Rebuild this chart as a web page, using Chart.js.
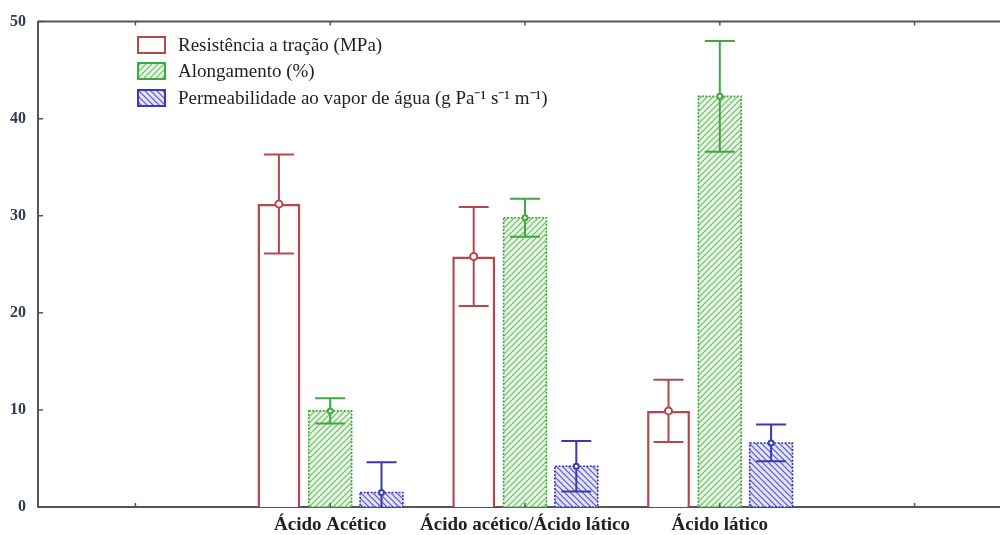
<!DOCTYPE html>
<html>
<head>
<meta charset="utf-8">
<script src="https://cdn.jsdelivr.net/npm/chart.js"></script>
<style>
  html, body { margin: 0; padding: 0; background: #fff; overflow: hidden; }
  #wrap { width: 1015px; height: 535px; }
</style>
</head>
<body>
<div id="wrap"><canvas id="grafico" width="1015" height="535"></canvas></div>
<script>
// categorias (as pontas vazias dão o espaço das bordas)
const categories = ['', 'Ácido Acético', 'Ácido acético/Ácido lático', 'Ácido lático', ''];

// médias e desvios
const resistencia = [null, 31.2, 25.8, 9.9, null];
const resistenciaErr = [null, 5.1, 5.1, 3.2, null];
const alongamento = [null, 9.9, 29.8, 42.3, null];
const alongamentoErr = [null, 1.3, 1.95, 5.7, null];
const permeabilidade = [null, 1.5, 4.2, 6.6, null];
const permeabilidadeErr = [null, 3.1, 2.6, 1.9, null];

const yTicks = [0, 10, 20, 30, 40, 50];

const labelsLegenda = [
  'Resistência a tração (MPa)',
  'Alongamento (%)',
  'Permeabilidade ao vapor de água (g Pa\u207B\u00B9 s\u207B\u00B9 m\u207B\u00B9)'
];

const vermelho = '#b5484e';
const verde = '#3fa83f';
const azul = '#3a3aad';

// padrão hachurado
function hachura(cor, fundo, sentido) {
  const c = document.createElement('canvas');
  c.width = 6; c.height = 6;
  const g = c.getContext('2d');
  g.fillStyle = fundo;
  g.fillRect(0, 0, 6, 6);
  g.strokeStyle = cor;
  g.lineWidth = 1.2;
  g.beginPath();
  if (sentido > 0) {
    g.moveTo(0, 6); g.lineTo(6, 0);
    g.moveTo(-3, 3); g.lineTo(3, -3);
    g.moveTo(3, 9); g.lineTo(9, 3);
  } else {
    g.moveTo(0, 0); g.lineTo(6, 6);
    g.moveTo(-3, 3); g.lineTo(3, 9);
    g.moveTo(3, -3); g.lineTo(9, 3);
  }
  g.stroke();
  return document.getElementById('grafico').getContext('2d').createPattern(c, 'repeat');
}

const padraoVerde = hachura('#6cc06c', '#e6f4e2', 1);
const padraoAzul = hachura('#5a5ac0', '#e4e4f4', -1);

const erros = [resistenciaErr, alongamentoErr, permeabilidadeErr];
const raios = [3.5, 2.5, 2.5];

// barras de erro, eixos e legenda desenhados por cima
const extras = {
  id: 'extras',
  afterDatasetsDraw(chart) {
    const ctx = chart.ctx;
    const area = chart.chartArea;
    const y = chart.scales.y;
    const x = chart.scales.x;

    // borda pontilhada das barras hachuradas
    [1, 2].forEach(i => {
      const meta = chart.getDatasetMeta(i);
      const cor = chart.data.datasets[i].borderColor;
      meta.data.forEach((el, j) => {
        if (chart.data.datasets[i].data[j] == null) return;
        const w = el.width;
        ctx.save();
        ctx.strokeStyle = cor;
        ctx.lineWidth = 1.6;
        ctx.setLineDash([2, 1.5]);
        ctx.strokeRect(el.x - w / 2, el.y, w, el.base - el.y);
        ctx.restore();
      });
    });

    ctx.save();
    ctx.beginPath();
    ctx.rect(area.left, area.top, area.right - area.left, area.bottom - area.top);
    ctx.clip();
    chart.data.datasets.forEach((ds, i) => {
      const meta = chart.getDatasetMeta(i);
      meta.data.forEach((el, j) => {
        const v = ds.data[j];
        if (v == null) return;
        const e = erros[i][j];
        const yt = y.getPixelForValue(v + e);
        const yb = y.getPixelForValue(v - e);
        const ym = y.getPixelForValue(v);
        ctx.strokeStyle = ds.borderColor;
        ctx.lineWidth = 2;
        ctx.beginPath();
        ctx.moveTo(el.x, yt); ctx.lineTo(el.x, yb);
        ctx.moveTo(el.x - 15, yt); ctx.lineTo(el.x + 15, yt);
        ctx.moveTo(el.x - 15, yb); ctx.lineTo(el.x + 15, yb);
        ctx.stroke();
        ctx.fillStyle = '#fff';
        ctx.beginPath();
        ctx.arc(el.x, ym, raios[i], 0, Math.PI * 2);
        ctx.fill();
        ctx.stroke();
      });
    });
    ctx.restore();

    // moldura: topo e pequenas marcas
    ctx.save();
    ctx.strokeStyle = '#555';
    ctx.lineWidth = 2;
    ctx.beginPath();
    ctx.moveTo(area.left, area.top); ctx.lineTo(area.right, area.top);
    ctx.stroke();
    ctx.lineWidth = 1.5;
    ctx.beginPath();
    y.ticks.forEach((t, k) => {
      const py = y.getPixelForTick(k);
      ctx.moveTo(area.left, py); ctx.lineTo(area.left + 5, py);
    });
    x.ticks.forEach((t, k) => {
      const px = x.getPixelForTick(k);
      ctx.moveTo(px, area.bottom); ctx.lineTo(px, area.bottom - 4);
      ctx.moveTo(px, area.top); ctx.lineTo(px, area.top + 4);
    });
    ctx.stroke();
    ctx.restore();

    // legenda
    const lx = 138, ly = [37, 63, 90];
    const fundos = ['#fff', padraoVerde, padraoAzul];
    const bordas = [vermelho, verde, azul];
    ctx.save();
    ctx.font = '19px "Liberation Serif", serif';
    ctx.textBaseline = 'middle';
    labelsLegenda.forEach((txt, i) => {
      ctx.fillStyle = fundos[i];
      ctx.fillRect(lx, ly[i], 27, 16);
      ctx.strokeStyle = bordas[i];
      ctx.lineWidth = 2;
      ctx.strokeRect(lx, ly[i], 27, 16);
      ctx.fillStyle = '#222';
      ctx.fillText(txt, 178, ly[i] + 9);
    });
    ctx.restore();
  }
};

new Chart(document.getElementById('grafico'), {
  type: 'bar',
  data: {
    labels: categories,
    datasets: [
      {
        label: labelsLegenda[0],
        data: resistencia,
        backgroundColor: '#fff',
        borderColor: vermelho,
        borderWidth: 2.5
      },
      {
        label: labelsLegenda[1],
        data: alongamento,
        backgroundColor: padraoVerde,
        borderColor: verde,
        borderWidth: 0
      },
      {
        label: labelsLegenda[2],
        data: permeabilidade,
        backgroundColor: padraoAzul,
        borderColor: azul,
        borderWidth: 0
      }
    ]
  },
  options: {
    responsive: false,
    animation: false,
    categoryPercentage: 0.79,
    barPercentage: 0.835,
    layout: { padding: { top: 20, right: 3 } },
    plugins: {
      legend: { display: false },
      tooltip: { enabled: false }
    },
    scales: {
      x: {
        grid: { display: false, drawTicks: false },
        border: { display: true, color: '#555', width: 2 },
        ticks: {
          color: '#222',
          padding: 7,
          maxRotation: 0,
          minRotation: 0,
          autoSkip: false,
          font: { family: '"Liberation Serif", serif', size: 19, weight: 'bold' }
        },
        afterFit(s) { s.height = 28; }
      },
      y: {
        min: 0,
        max: 50,
        afterBuildTicks(s) { s.ticks = yTicks.map(v => ({ value: v })); },
        grid: { display: false, drawTicks: false },
        border: { display: true, color: '#555', width: 2 },
        ticks: {
          color: '#2e3b55',
          padding: 12,
          font: { family: '"Liberation Serif", serif', size: 16, weight: 'bold' }
        },
        afterFit(s) { s.width = 38; }
      }
    }
  },
  plugins: [extras]
});
</script>
</body>
</html>
